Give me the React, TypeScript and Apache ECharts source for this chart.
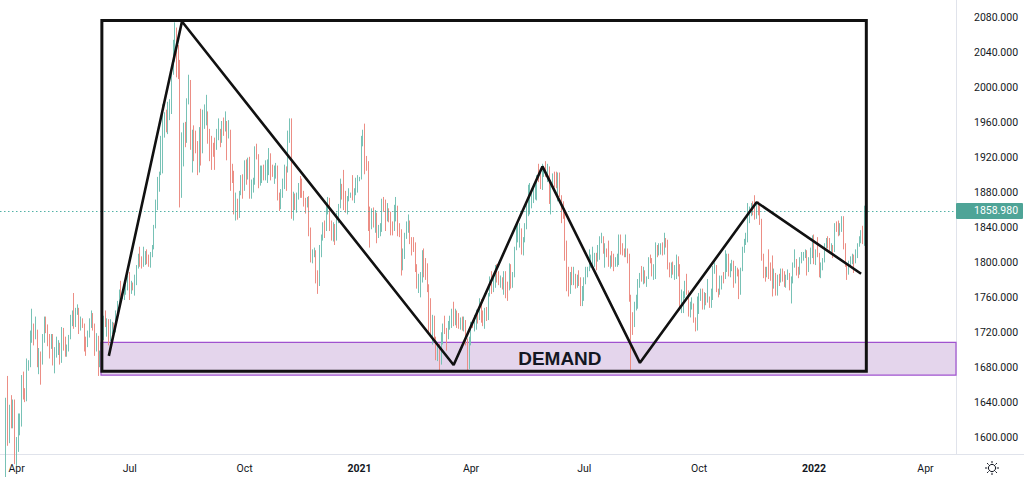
import React, { useEffect, useRef } from 'react';
import * as echarts from 'echarts';

// ---- daily gold candles, each [close, high, low]; open = previous close ----
const firstOpen = 1553;
const firstCandleDate = '2020-03-24';
const mar2020 = [[1632,1645,1550],[1611,1670,1590],[1629,1637,1593],[1617,1648,1610],[1622,1643,1610],[1577,1643,1569]];
const apr2020 = [[1591,1600,1567],[1614,1627,1583],[1620,1627,1602],[1664,1671,1612],[1648,1675,1643],[1646,1656,1640],[1683,1690,1641],[1685,1688,1676],[1714,1722,1680],[1727,1747,1708],[1716,1730,1705],[1718,1738,1712],[1683,1723,1680],[1695,1702,1672],[1686,1698,1660],[1714,1718,1683],[1730,1738,1708],[1726,1738,1719],[1713,1729,1704],[1707,1718,1690],[1713,1718,1701],[1686,1718,1682]];
const may2020 = [[1700,1703,1673],[1702,1715,1691],[1705,1711,1694],[1686,1708,1683],[1725,1726,1685],[1702,1723,1699],[1697,1715,1692],[1702,1706,1692],[1715,1717,1698],[1730,1740,1712],[1743,1745,1727],[1732,1765,1724],[1745,1748,1726],[1747,1752,1740],[1726,1748,1718],[1735,1738,1722],[1728,1736,1725],[1710,1730,1698],[1708,1715,1693],[1719,1722,1703],[1730,1736,1714]];
const jun2020 = [[1739,1745,1725],[1727,1742,1722],[1699,1730,1693],[1714,1719,1698],[1684,1716,1670],[1698,1699,1680],[1715,1720,1695],[1738,1739,1711],[1728,1745,1726],[1730,1736,1715],[1725,1735,1705],[1727,1735,1710],[1727,1732,1718],[1722,1731,1718],[1743,1745,1720],[1754,1756,1739],[1768,1769,1752],[1762,1779,1757],[1763,1768,1758],[1771,1772,1757],[1772,1775,1763],[1781,1785,1768]];
const jul2020 = [[1770,1789,1757],[1775,1779,1764],[1772,1777,1768],[1784,1786,1762],[1795,1797,1774],[1809,1810,1793],[1803,1818,1795],[1799,1807,1793],[1802,1818,1795],[1810,1813,1797],[1808,1815,1798],[1796,1809,1795],[1810,1812,1794],[1817,1820,1806],[1842,1843,1815],[1871,1872,1839],[1888,1898,1860],[1902,1904,1881],[1941,1945,1900],[1958,1981,1902],[1970,1972,1943],[1958,1975,1949],[1975,1984,1947]];
const aug2020 = [[1976,1987,1963],[2018,2020,1970],[2038,2055,2015],[2062,2075,2030],[2035,2069,2012],[2028,2049,2010],[1911,2032,1863],[1915,1949,1874],[1954,1960,1910],[1944,1961,1932],[1985,1988,1937],[2003,2015,1981],[1929,2009,1929],[1947,1952,1903],[1940,1957,1916],[1929,1951,1925],[1907,1939,1900],[1953,1955,1903],[1929,1976,1911],[1964,1975,1925],[1968,1981,1953]];
const sep2020 = [[1970,1992,1957],[1944,1973,1936],[1937,1953,1916],[1933,1945,1906],[1932,1937,1921],[1930,1943,1906],[1946,1953,1929],[1946,1965,1940],[1940,1953,1932],[1955,1962,1937],[1954,1966,1945],[1958,1973,1950],[1944,1962,1917],[1950,1963,1942],[1912,1952,1882],[1900,1913,1891],[1863,1905,1855],[1868,1880,1848],[1861,1873,1849],[1880,1882,1851],[1898,1900,1877],[1887,1901,1873]];
const oct2020 = [[1906,1917,1882],[1900,1918,1889],[1913,1920,1895],[1877,1921,1873],[1886,1895,1873],[1894,1897,1880],[1930,1933,1889],[1922,1936,1918],[1891,1924,1885],[1902,1911,1888],[1908,1911,1891],[1900,1912,1894],[1904,1917,1894],[1907,1918,1891],[1924,1931,1900],[1904,1925,1894],[1902,1912,1898],[1902,1911,1890],[1908,1914,1896],[1878,1911,1871],[1868,1880,1859],[1879,1884,1861]];
const nov2020 = [[1894,1896,1874],[1909,1912,1884],[1905,1910,1882],[1949,1951,1903],[1951,1965,1937],[1863,1965,1850],[1877,1881,1848],[1866,1879,1860],[1874,1880,1857],[1889,1891,1872],[1888,1899,1874],[1880,1896,1874],[1871,1882,1864],[1867,1874,1856],[1872,1875,1863],[1837,1876,1830],[1805,1840,1800],[1808,1815,1799],[1811,1817,1806],[1788,1814,1776],[1777,1791,1764]];
const dec2020 = [[1815,1820,1773],[1830,1832,1806],[1841,1846,1825],[1839,1848,1828],[1863,1866,1836],[1871,1875,1855],[1839,1874,1836],[1836,1848,1825],[1839,1846,1824],[1827,1844,1820],[1855,1857,1825],[1864,1867,1845],[1884,1896,1862],[1881,1890,1872],[1873,1906,1860],[1859,1882,1857],[1872,1876,1855],[1877,1885,1870],[1877,1880,1874],[1876,1900,1871],[1880,1885,1868],[1893,1897,1877],[1895,1900,1880]];
const jan2021 = [[1895,1898,1893],[1943,1945,1895],[1950,1952,1933],[1918,1959,1901],[1913,1922,1905],[1850,1916,1836],[1844,1864,1817],[1856,1862,1838],[1845,1863,1840],[1851,1860,1834],[1828,1857,1822],[1840,1843,1829],[1840,1845,1830],[1871,1873,1835],[1870,1875,1858],[1856,1872,1836],[1856,1868,1847],[1850,1862,1846],[1844,1858,1831],[1842,1847,1831],[1848,1866,1836]];
const feb2021 = [[1860,1875,1847],[1837,1865,1830],[1835,1845,1829],[1794,1838,1785],[1813,1816,1791],[1831,1834,1804],[1838,1847,1827],[1842,1855,1834],[1825,1848,1821],[1824,1829,1808],[1819,1829,1812],[1794,1823,1789],[1775,1798,1770],[1775,1787,1765],[1784,1789,1760],[1808,1814,1777],[1805,1816,1783],[1797,1803,1780],[1770,1799,1766],[1734,1775,1717]];
const mar2021 = [[1723,1759,1717],[1737,1740,1706],[1712,1739,1708],[1697,1715,1688],[1700,1707,1687],[1683,1707,1676],[1716,1720,1683],[1726,1730,1706],[1722,1739,1718],[1719,1725,1699],[1731,1733,1712],[1731,1739,1723],[1745,1747,1725],[1735,1755,1727],[1745,1747,1728],[1738,1745,1725],[1726,1742,1724],[1734,1737,1723],[1725,1738,1722],[1732,1738,1721],[1712,1734,1705],[1685,1713,1676],[1708,1715,1678]];
const apr2021 = [[1729,1732,1705],[1728,1731,1725],[1729,1740,1721],[1744,1746,1723],[1737,1745,1730],[1756,1759,1734],[1743,1758,1731],[1732,1745,1727],[1746,1748,1724],[1736,1749,1733],[1764,1765,1734],[1777,1784,1761],[1770,1790,1764],[1778,1783,1766],[1793,1797,1771],[1783,1798,1777],[1777,1790,1774],[1780,1785,1771],[1776,1783,1769],[1780,1790,1763],[1771,1790,1759],[1768,1778,1756]];
const may2021 = [[1792,1799,1768],[1778,1798,1770],[1785,1789,1771],[1815,1818,1783],[1831,1843,1814],[1836,1846,1823],[1837,1845,1817],[1815,1839,1809],[1826,1829,1808],[1843,1845,1823],[1867,1868,1838],[1869,1889,1853],[1870,1891,1855],[1877,1883,1862],[1881,1890,1868],[1882,1889,1872],[1898,1900,1871],[1897,1913,1892],[1896,1905,1884],[1903,1913,1883],[1906,1909,1898]];
const jun2021 = [[1903,1916,1898],[1908,1913,1892],[1871,1910,1867],[1891,1894,1855],[1898,1902,1884],[1893,1904,1886],[1888,1904,1885],[1898,1903,1870],[1877,1903,1875],[1866,1877,1845],[1859,1870,1850],[1813,1862,1802],[1773,1825,1767],[1764,1795,1761],[1782,1789,1770],[1778,1795,1774],[1779,1795,1774],[1776,1787,1770],[1782,1786,1771],[1780,1791,1773],[1762,1783,1750],[1770,1773,1750]];
const jul2021 = [[1777,1783,1756],[1787,1795,1775],[1792,1795,1783],[1797,1815,1790],[1803,1809,1794],[1803,1818,1792],[1808,1811,1795],[1806,1811,1791],[1808,1820,1801],[1824,1830,1803],[1829,1834,1822],[1812,1830,1810],[1812,1822,1794],[1810,1816,1806],[1803,1825,1795],[1806,1808,1793],[1802,1813,1795],[1797,1810,1790],[1799,1806,1795],[1806,1810,1795],[1829,1832,1797],[1814,1832,1809]];
const aug2021 = [[1813,1822,1808],[1810,1816,1806],[1812,1832,1806],[1804,1816,1799],[1763,1810,1755],[1731,1750,1677],[1729,1743,1717],[1752,1755,1726],[1753,1763,1745],[1779,1781,1747],[1787,1788,1771],[1786,1796,1778],[1788,1795,1775],[1780,1791,1776],[1781,1784,1772],[1805,1806,1781],[1804,1809,1799],[1790,1805,1784],[1792,1798,1780],[1818,1823,1781],[1810,1820,1806],[1814,1822,1808]];
const sep2021 = [[1815,1822,1809],[1810,1823,1808],[1828,1834,1809],[1823,1827,1817],[1794,1826,1792],[1788,1800,1783],[1794,1800,1782],[1788,1801,1786],[1794,1797,1780],[1804,1809,1781],[1794,1807,1784],[1753,1798,1745],[1754,1769,1742],[1764,1767,1742],[1774,1779,1759],[1768,1787,1763],[1743,1765,1738],[1750,1755,1737],[1751,1760,1746],[1734,1753,1731],[1726,1737,1721],[1757,1761,1722]];
const oct2021 = [[1761,1765,1741],[1769,1770,1756],[1761,1770,1746],[1762,1766,1746],[1756,1765,1751],[1757,1781,1754],[1754,1761,1748],[1760,1770,1748],[1793,1796,1757],[1796,1800,1787],[1768,1797,1766],[1765,1770,1760],[1769,1785,1763],[1783,1785,1769],[1782,1789,1776],[1793,1814,1781],[1807,1810,1789],[1793,1810,1784],[1798,1799,1783],[1800,1803,1790],[1783,1802,1771]];
const nov2021 = [[1793,1796,1776],[1788,1794,1784],[1769,1792,1758],[1792,1794,1763],[1818,1818,1790],[1824,1827,1811],[1832,1834,1820],[1849,1868,1823],[1862,1864,1845],[1865,1868,1853],[1863,1870,1854],[1852,1877,1849],[1868,1870,1850],[1860,1870,1854],[1846,1866,1843],[1805,1850,1802],[1789,1810,1782],[1788,1795,1778],[1790,1795,1783],[1788,1815,1781],[1785,1800,1779],[1775,1808,1761]];
const dec2021 = [[1781,1793,1770],[1769,1788,1762],[1784,1786,1762],[1779,1787,1773],[1786,1793,1777],[1783,1793,1778],[1775,1790,1772],[1783,1786,1771],[1787,1792,1780],[1771,1788,1768],[1778,1784,1753],[1798,1800,1776],[1798,1815,1794],[1791,1804,1785],[1789,1795,1782],[1803,1806,1786],[1809,1812,1799],[1811,1812,1802],[1811,1815,1805],[1791,1814,1785],[1805,1806,1789],[1815,1817,1798],[1829,1831,1805]];
const jan2022 = [[1801,1832,1798],[1814,1815,1797],[1810,1829,1806],[1789,1811,1783],[1797,1800,1782],[1801,1805,1791],[1818,1822,1800],[1826,1828,1816],[1821,1830,1816],[1817,1828,1812],[1819,1822,1810],[1813,1820,1805],[1843,1845,1812],[1839,1847,1835],[1835,1848,1830],[1842,1845,1831],[1848,1853,1835],[1820,1853,1815],[1797,1822,1795],[1791,1798,1780],[1797,1802,1786]];
const feb2022 = [[1801,1807,1795],[1807,1810,1798],[1805,1809,1788],[1807,1815,1799],[1820,1822,1805],[1826,1830,1818],[1834,1837,1822],[1827,1842,1821],[1858.98,1865,1819]];

const lastPrice = 1858.98;
const priceTicks = [1600, 1640, 1680, 1720, 1760, 1800, 1840, 1880, 1920, 1960, 2000, 2040, 2080];
const quarterMonths = { 3: 'Apr', 6: 'Jul', 9: 'Oct' } as Record<number, string>;

// drawings (date, price)
const zigzag: [string, number][] = [
  ['2020-06-15', 1693], ['2020-08-12', 2076], ['2021-03-18', 1682.5],
  ['2021-05-28', 1910], ['2021-08-16', 1685], ['2021-11-17', 1869], ['2022-02-09', 1787],
];
const boxDates = ['2020-06-09', '2022-02-14'];
const boxPrices = [2077, 1675.5];
const demandStartDate = '2020-06-09';
const demandPrices = [1708.5, 1671];
const demandLabel = 'DEMAND';
const demandLabelAt: [string, number] = ['2021-06-11', 1690];

// category (weekday) axis
const axisStartUTC = Date.UTC(2020, 2, 19);
const axisBarCount = 549;

function buildCategories(): string[] {
  const out: string[] = [];
  let t = axisStartUTC;
  while (out.length < axisBarCount) {
    const d = new Date(t);
    const wd = d.getUTCDay();
    if (wd !== 0 && wd !== 6) out.push(d.toISOString().slice(0, 10));
    t += 86400000;
  }
  return out;
}

const categories = buildCategories();
const catIndex = (d: string) => categories.indexOf(d);

function buildCandles() {
  const months = [mar2020, apr2020, may2020, jun2020, jul2020, aug2020, sep2020, oct2020, nov2020, dec2020,
    jan2021, feb2021, mar2021, apr2021, may2021, jun2021, jul2021, aug2021, sep2021, oct2021, nov2021, dec2021,
    jan2022, feb2022];
  const flat = ([] as number[][]).concat(...months);
  const start = catIndex(firstCandleDate);
  let prev = firstOpen;
  return flat.map((r, i) => {
    const [c, h, l] = r;
    const o = prev;
    prev = c;
    return [start + i, o, c, Math.min(l, o, c), Math.max(h, o, c)];
  });
}

const quarterStart = new Set<number>();
(() => {
  let lastMonth = -1;
  categories.forEach((d, i) => {
    const m = parseInt(d.slice(5, 7), 10) - 1;
    if (m !== lastMonth) {
      if (m % 3 === 0 && i > 0) quarterStart.add(i);
      lastMonth = m;
    }
  });
})();

const UP = '#78c2b6';
const DOWN = '#ec8e85';
const TEXT = '#131722';
const AXISLINE = '#e0e3eb';

export default function App() {
  const ref = useRef<HTMLDivElement>(null);
  useEffect(() => {
    document.body.style.margin = '0';
    const el = ref.current!;
    const chart = echarts.init(el, null, { renderer: 'svg' });
    const candles = buildCandles();
    const option: any = {
      animation: false,
      backgroundColor: '#ffffff',
      grid: { left: 0, right: 68, top: 0, bottom: 23, containLabel: false, outerBoundsMode: 'none' },
      xAxis: {
        type: 'category',
        data: categories,
        boundaryGap: true,
        axisLine: { show: true, lineStyle: { color: AXISLINE, width: 1 } },
        axisTick: { show: false },
        splitLine: { show: false },
        axisLabel: {
          interval: (i: number) => quarterStart.has(i),
          formatter: (v: string) => {
            const m = parseInt(v.slice(5, 7), 10) - 1;
            if (m === 0) return '{b|' + v.slice(0, 4) + '}';
            return quarterMonths[m] || '';
          },
          color: TEXT,
          fontSize: 10.5,
          fontFamily: 'Roboto',
          margin: 9,
          rich: { b: { fontWeight: 'bold', fontSize: 10.5, fontFamily: 'Roboto', color: TEXT } },
        },
      },
      yAxis: {
        type: 'value',
        position: 'right',
        min: 1580.6,
        max: 2100.6,
        splitLine: { show: false },
        axisLine: { show: true, lineStyle: { color: AXISLINE, width: 1 } },
        axisTick: { show: false },
        axisLabel: {
          customValues: priceTicks,
          formatter: (v: number) => v.toFixed(3),
          color: TEXT,
          fontSize: 10.5,
          fontFamily: 'Roboto',
          margin: 18,
        },
      },
      series: [
        {
          type: 'candlestick',
          data: candles,
          encode: { x: 0, y: [1, 2, 3, 4] },
          barWidth: 1.2,
          silent: true,
          z: 2,
          itemStyle: { color: UP, color0: DOWN, borderColor: UP, borderColor0: DOWN, borderWidth: 1 },
          markLine: {
            silent: true,
            symbol: ['none', 'none'],
            label: { show: false },
            lineStyle: { color: '#3fa99c', type: [1.5, 2.5], width: 1, opacity: 0.9 },
            data: [{ yAxis: lastPrice }],
          },
        },
        {
          type: 'line',
          data: zigzag.map(([d, p]) => [catIndex(d), p]),
          symbol: 'none',
          silent: true,
          z: 5,
          lineStyle: { color: '#111111', width: 2.6 },
        },
        {
          type: 'line',
          data: [
            [catIndex(boxDates[0]), boxPrices[0]],
            [catIndex(boxDates[1]), boxPrices[0]],
            [catIndex(boxDates[1]), boxPrices[1]],
            [catIndex(boxDates[0]), boxPrices[1]],
            [catIndex(boxDates[0]), boxPrices[0]],
          ],
          symbol: 'none',
          silent: true,
          z: 5,
          lineStyle: { color: '#111111', width: 3, join: 'miter', cap: 'square' },
        },
      ],
    };
    chart.setOption(option);

    const xOf = (i: number) => chart.convertToPixel({ xAxisIndex: 0 }, i) as number;
    const yOf = (v: number) => chart.convertToPixel({ yAxisIndex: 0 }, v) as number;
    const bw = xOf(1) - xOf(0);
    const plotRight = xOf(categories.length - 1) + bw / 2;
    const zx = xOf(catIndex(demandStartDate)) - bw / 2;
    const zy1 = yOf(demandPrices[0]);
    const zy2 = yOf(demandPrices[1]);
    const ly = yOf(lastPrice);
    const tx = xOf(catIndex(demandLabelAt[0]));
    const ty = yOf(demandLabelAt[1]);
    const axisY = yOf(1580.6);
    const gx = 992, gy = 468;
    const rays: any[] = [];
    for (let k = 0; k < 8; k++) {
      const a = (k * Math.PI) / 4;
      rays.push({
        type: 'line',
        shape: { x1: gx + Math.cos(a) * 4.8, y1: gy + Math.sin(a) * 4.8, x2: gx + Math.cos(a) * 7, y2: gy + Math.sin(a) * 7 },
        style: { stroke: TEXT, lineWidth: 1 },
        z: 10,
      });
    }
    chart.setOption({
      graphic: [
        {
          type: 'rect',
          z: 1,
          silent: true,
          shape: { x: zx, y: zy1, width: plotRight - zx, height: zy2 - zy1 },
          style: { fill: 'rgba(149,87,181,0.25)', stroke: '#a052cf', lineWidth: 1.2 },
        },
        {
          type: 'text',
          z: 10,
          silent: true,
          x: tx,
          y: ty,
          style: { text: demandLabel, align: 'center', verticalAlign: 'middle', fill: TEXT, fontSize: 19, fontWeight: 'bold', fontFamily: 'Liberation Sans' },
        },
        {
          type: 'line',
          z: 10,
          silent: true,
          shape: { x1: plotRight, y1: axisY + 0.5, x2: 1024, y2: axisY + 0.5 },
          style: { stroke: AXISLINE, lineWidth: 1 },
        },
        {
          type: 'rect',
          z: 10,
          silent: true,
          shape: { x: plotRight, y: ly - 8, width: 67, height: 16, r: 1 },
          style: { fill: '#4ea497' },
        },
        {
          type: 'text',
          z: 11,
          silent: true,
          x: plotRight + 18,
          y: ly,
          style: { text: lastPrice.toFixed(3), align: 'left', verticalAlign: 'middle', fill: '#ffffff', fontSize: 10.5, fontFamily: 'Roboto' },
        },
        {
          type: 'circle',
          z: 10,
          silent: true,
          shape: { cx: gx, cy: gy, r: 3.6 },
          style: { fill: 'none', stroke: TEXT, lineWidth: 1 },
        },
        ...rays,
      ],
    });
    return () => chart.dispose();
  }, []);
  return <div ref={ref} style={{ position: 'absolute', left: 0, top: 0, width: 1024, height: 477 }} />;
}
